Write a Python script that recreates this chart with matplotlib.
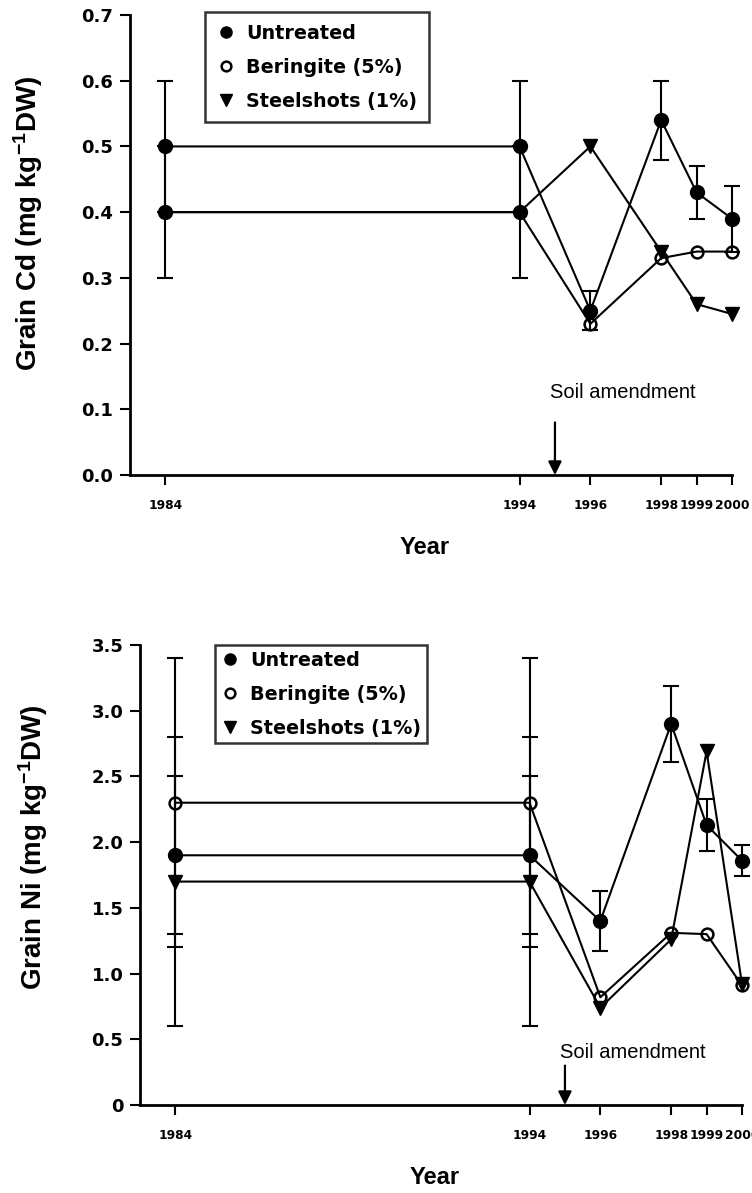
import matplotlib
matplotlib.use("Agg")
import matplotlib.pyplot as plt
from matplotlib.lines import Line2D
import numpy as np

# ---- data ----
years = [1984, 1994, 1996, 1998, 1999, 2000]
year_labels = ["1984", "1994", "1996", "1998", "1999", "2000"]
amendment_year = 1995

# Grain Cd
cd_untreated = [0.50, 0.50, 0.25, 0.54, 0.43, 0.39]
cd_untreated_err = [0.10, 0.10, 0.03, 0.06, 0.04, 0.05]
cd_pre_years = [1984, 1994]          # both treatments share the pre-amendment value
cd_treat_pre = [0.40, 0.40]
cd_treat_pre_err = [0.10, 0.10]
cd_post_years = [1996, 1998, 1999, 2000]
cd_beringite_post = [0.23, 0.33, 0.34, 0.34]
cd_steel_post = [0.50, 0.34, 0.26, 0.245]
cd_ticks = [0.0, 0.1, 0.2, 0.3, 0.4, 0.5, 0.6, 0.7]
cd_tick_labels = ["0.0", "0.1", "0.2", "0.3", "0.4", "0.5", "0.6", "0.7"]

# Grain Ni
ni_untreated = [1.90, 1.90, 1.40, 2.90, 2.13, 1.86]
ni_untreated_err = [0.60, 0.60, 0.23, 0.29, 0.20, 0.12]
ni_beringite = [2.30, 2.30, 0.82, 1.31, 1.30, 0.91]
ni_beringite_err = [1.10, 1.10, 0, 0, 0, 0]
ni_steel = [1.70, 1.70, 0.74, 1.26, 2.69, 0.92]
ni_steel_err = [1.10, 1.10, 0, 0, 0, 0]
ni_ticks = [0, 0.5, 1.0, 1.5, 2.0, 2.5, 3.0, 3.5]
ni_tick_labels = ["0", "0.5", "1.0", "1.5", "2.0", "2.5", "3.0", "3.5"]

legend_labels = ["Untreated", "Beringite (5%)", "Steelshots (1%)"]

plt.rcParams["mathtext.fontset"] = "custom"
plt.rcParams["mathtext.rm"] = "Liberation Sans:bold"
plt.rcParams["mathtext.default"] = "rm"

LW = 1.5
filled = dict(color="k", marker="o", ms=10, mfc="k", mec="k", clip_on=False)
hollow = dict(color="k", marker="o", ms=8.5, mfc="none", mec="k", mew=1.8, clip_on=False)
tri = dict(color="k", marker="v", ms=10, mfc="k", mec="k", clip_on=False)
ebar = dict(fmt="none", ecolor="k", elinewidth=LW, capsize=5.5, capthick=LW, clip_on=False)


def errbars(ax, x, y, e):
    x, y, e = np.array(x), np.array(y), np.array(e)
    m = e > 0
    ax.errorbar(x[m], y[m], yerr=e[m], **ebar)


def style_axes(ax, ticks, tick_labels, ylim, ylabel, label_x, label_y):
    for s in ["top", "right"]:
        ax.spines[s].set_visible(False)
    for s in ["left", "bottom"]:
        ax.spines[s].set_linewidth(2)
    ax.set_xlim(1983, 2000)
    ax.set_ylim(*ylim)
    ax.set_xticks(years)
    ax.set_xticklabels(year_labels, fontsize=8.8, fontweight="bold", family="DejaVu Sans")
    ax.set_yticks(ticks)
    ax.set_yticklabels(tick_labels, fontsize=13, fontweight="bold", family="DejaVu Sans")
    ax.tick_params(axis="x", direction="out", length=7, width=1.5, pad=10)
    ax.tick_params(axis="y", direction="out", length=7, width=1.5, pad=5)
    ax.set_ylabel(ylabel, fontsize=20, fontweight="bold", family="Liberation Sans")
    ax.yaxis.set_label_coords(label_x, label_y)
    ax.set_xlabel("Year", fontsize=17, fontweight="bold", family="Liberation Sans")
    ax.xaxis.set_label_coords(0.49, -0.133)


def add_legend(ax, y_top, borderpad, labelspacing):
    handles = [
        Line2D([], [], ls="none", marker="o", ms=8, mfc="k", mec="k"),
        Line2D([], [], ls="none", marker="o", ms=7, mfc="none", mec="k", mew=1.8),
        Line2D([], [], ls="none", marker="v", ms=8, mfc="k", mec="k"),
    ]
    leg = ax.legend(handles, legend_labels, loc="upper left",
                    bbox_to_anchor=(0.125, y_top), frameon=True, fancybox=False,
                    prop=dict(family="DejaVu Sans", weight="bold", size=13.8),
                    handlelength=0.9, handletextpad=0.6, labelspacing=labelspacing,
                    borderpad=borderpad, borderaxespad=0)
    leg.get_frame().set_edgecolor("k")
    leg.get_frame().set_linewidth(1.8)


def soil_amendment(ax, arrow_top, text_y):
    ax.annotate("", xy=(amendment_year, 0), xytext=(amendment_year, arrow_top),
                arrowprops=dict(arrowstyle="-|>", color="k", lw=1.6, mutation_scale=20,
                                shrinkA=0, shrinkB=0))
    ax.text(1996.92, text_y, "Soil amendment", ha="center", va="center",
            fontsize=14.5, family="Liberation Sans")


fig = plt.figure(figsize=(7.52, 11.93), dpi=100)

# ---- Grain Cd ----
ax1 = fig.add_axes([130 / 752, 1 - 475 / 1193, 602 / 752, 460 / 1193])
errbars(ax1, years, cd_untreated, cd_untreated_err)
errbars(ax1, cd_pre_years, cd_treat_pre, cd_treat_pre_err)
ax1.plot(cd_pre_years + cd_post_years, cd_treat_pre + cd_beringite_post, color="k", lw=LW)
ax1.plot(cd_pre_years + cd_post_years, cd_treat_pre + cd_steel_post, color="k", lw=LW)
ax1.plot(cd_post_years, cd_beringite_post, ls="none", **hollow)
ax1.plot(cd_post_years, cd_steel_post, ls="none", **tri)
ax1.plot(cd_pre_years, cd_treat_pre, ls="none", **filled)
ax1.plot(years, cd_untreated, lw=LW, **filled)
style_axes(ax1, cd_ticks, cd_tick_labels, (0, 0.7), "Grain Cd (mg kg$^{-1}$DW)", -0.141, 0.546)
add_legend(ax1, 1.007, 0.62, 0.78)
soil_amendment(ax1, 0.08, 0.125)

# ---- Grain Ni ----
ax2 = fig.add_axes([140 / 752, 1 - 1105 / 1193, 602 / 752, 460 / 1193])
errbars(ax2, years, ni_untreated, ni_untreated_err)
errbars(ax2, years, ni_beringite, ni_beringite_err)
errbars(ax2, years, ni_steel, ni_steel_err)
ax2.plot(years, ni_beringite, lw=LW, **hollow)
ax2.plot(years, ni_steel, lw=LW, **tri)
ax2.plot(years, ni_untreated, lw=LW, **filled)
style_axes(ax2, ni_ticks, ni_tick_labels, (0, 3.5), "Grain Ni (mg kg$^{-1}$DW)", -0.15, 0.56)
add_legend(ax2, 1.0, 0.3, 0.78)
soil_amendment(ax2, 0.30, 0.40)

fig.savefig("out.png", dpi=100)
